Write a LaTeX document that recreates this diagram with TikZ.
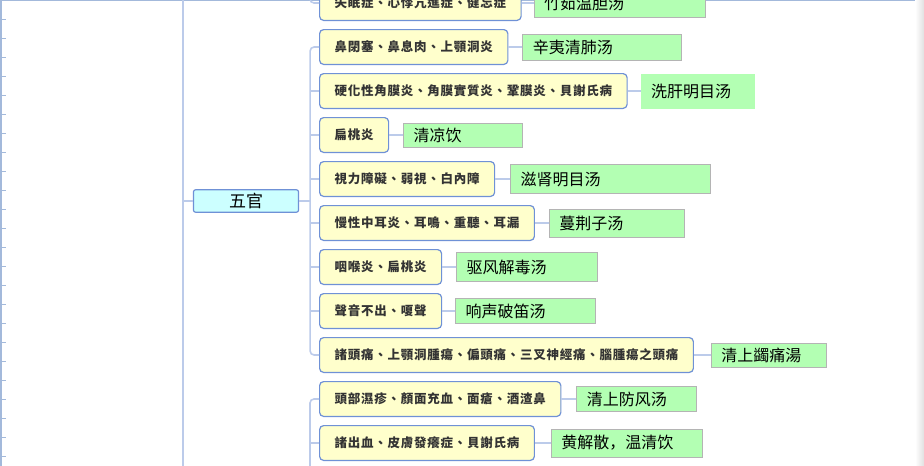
\documentclass[tikz,border=0pt]{standalone}
\usepackage{fontspec}
\usepackage{xcolor}
\usetikzlibrary{positioning}
\newfontfamily\symfont[LetterSpace=6]{Noto Sans CJK TC}
\newfontfamily\rxfont{Noto Sans CJK SC}
\definecolor{symfill}{HTML}{FFFFCC}
\definecolor{symline}{HTML}{6F91D6}
\definecolor{rxfill}{HTML}{B3FFB3}
\definecolor{rxline}{HTML}{B4B4B4}
\definecolor{topfill}{HTML}{CCFFFF}
\definecolor{linkc}{HTML}{BCCBEA}
\definecolor{rulec}{HTML}{A3B9DB}

\begin{document}
\begin{tikzpicture}[x=1pt,y=-1pt,
    sym/.style={draw=symline,line width=1.2pt,rounded corners=4pt,fill=symfill,
                minimum height=34.8pt,inner xsep=15pt,text=black!80,
                font=\symfont\bfseries\fontsize{12.5}{14}\selectfont},
    rx/.style={draw=rxline,line width=0.8pt,fill=rxfill,inner xsep=10pt,align=left,
               font=\rxfont\fontsize{16}{18}\selectfont},
    link/.style={draw=linkc,line width=1.6pt},
    rule/.style={draw=rulec,line width=1pt},
    node distance=8pt
  ]
    \useasboundingbox (0,0) rectangle (924,466);

    % frame and ruler
    \draw[rule] (0,0.5) -- (924,0.5);
    \draw[rule,line width=1.6pt] (1,0) -- (1,466);
    \foreach \y in {19,38,...,456} \draw[rule] (1,\y) -- (6,\y);
    \shade[left color=white,right color=black!12] (915,0) rectangle (924,466);

    % parent node
    \node[draw=symline,line width=1.2pt,rounded corners=2pt,fill=topfill,
          minimum width=105pt,minimum height=21pt,
          font=\rxfont\fontsize{17}{19}\selectfont] (wg) at (246,201) {五官};

    % symptoms
    \node[sym,anchor=west] (nose) at (319,47) {鼻閉塞、鼻息肉、上顎洞炎};
    \node[sym,above=of nose.north west,anchor=south west] (insom) {失眠症、心悸亢進症、健忘症};
    \node[sym,below=of nose.south west,anchor=north west]   (cornea) {硬化性角膜炎、角膜實質炎、鞏膜炎、貝謝氏病};
    \node[sym,below=of cornea.south west,anchor=north west] (tonsil) {扁桃炎};
    \node[sym,below=of tonsil.south west,anchor=north west] (sight)  {視力障礙、弱視、白內障};
    \node[sym,below=of sight.south west,anchor=north west]  (ear)    {慢性中耳炎、耳鳴、重聽、耳漏};
    \node[sym,below=of ear.south west,anchor=north west]    (throat) {咽喉炎、扁桃炎};
    \node[sym,below=of throat.south west,anchor=north west] (voice)  {聲音不出、嗄聲};
    \node[sym,below=of voice.south west,anchor=north west]  (head)   {諸頭痛、上顎洞腫瘍、偏頭痛、三叉神經痛、腦腫瘍之頭痛};
    \node[sym,below=of head.south west,anchor=north west]   (skin)   {頭部濕疹、顏面充血、面瘡、酒渣鼻};
    \node[sym,below=of skin.south west,anchor=north west]   (bleed)  {諸出血、皮膚發癢症、貝謝氏病};

    % remedies
    \node[rx,right=12pt of insom,text width=151pt,minimum height=28pt]  (insomrx)  {竹茹温胆汤};
    \node[rx,right=14pt of nose,text width=139pt,minimum height=26pt]   (noserx)   {辛夷清肺汤};
    \node[rx,draw=none,right=13pt of cornea,text width=94pt,minimum height=35pt] (cornearx) {洗肝明目汤};
    \node[rx,right=14pt of tonsil,text width=99pt,minimum height=24pt]  (tonsilrx) {清凉饮};
    \node[rx,right=15pt of sight,text width=180pt,minimum height=29pt]  (sightrx)  {滋肾明目汤};
    \node[rx,right=14pt of ear,text width=115pt,minimum height=28pt]    (earrx)    {蔓荆子汤};
    \node[rx,right=14pt of throat,text width=121pt,minimum height=29pt] (throatrx) {驱风解毒汤};
    \node[rx,right=13pt of voice,text width=120pt,minimum height=25pt]  (voicerx)  {响声破笛汤};
    \node[rx,right=17pt of head,text width=95pt,minimum height=24pt]    (headrx)   {清上蠲痛湯};
    \node[rx,right=15pt of skin,text width=100pt,minimum height=25pt]   (skinrx)   {清上防风汤};
    \node[rx,right=16pt of bleed,text width=131pt,minimum height=28pt]  (bleedrx)  {黄解散，温清饮};

    % trunks
    \coordinate (spine) at (183,-20);
    \coordinate (spineend) at (183,490);
    \coordinate (wgj) at ([xshift=11pt]wg.east);
    \coordinate (upj) at (310,-20);
    \coordinate (lowj) at (310,490);

    \draw[link,line width=1.2pt] (spine) -- (spineend);
    \draw[link] (spine |- wg) -- (wg.west);
    \draw[link] (wg.east) -- (wgj);
    \draw[link,rounded corners=4pt] (nose.west) -| (wgj) |- (head.west);
    \draw[link] (wgj |- cornea.west) -- (cornea.west);
    \draw[link] (wgj |- tonsil.west) -- (tonsil.west);
    \draw[link] (wgj |- sight.west)  -- (sight.west);
    \draw[link] (wgj |- ear.west)    -- (ear.west);
    \draw[link] (wgj |- throat.west) -- (throat.west);
    \draw[link] (wgj |- voice.west)  -- (voice.west);
    \draw[link,rounded corners=4pt] (upj) |- (insom.west);
    \draw[link,rounded corners=4pt] (skin.west) -| (lowj);
    \draw[link] (lowj |- bleed.west) -- (bleed.west);

    % symptom -> remedy
    \draw[link] (insom)  -- (insomrx);
    \draw[link] (nose)   -- (noserx);
    \draw[link] (cornea) -- (cornearx);
    \draw[link] (tonsil) -- (tonsilrx);
    \draw[link] (sight)  -- (sightrx);
    \draw[link] (ear)    -- (earrx);
    \draw[link] (throat) -- (throatrx);
    \draw[link] (voice)  -- (voicerx);
    \draw[link] (head)   -- (headrx);
    \draw[link] (skin)   -- (skinrx);
    \draw[link] (bleed)  -- (bleedrx);
  \end{tikzpicture}
\end{document}
